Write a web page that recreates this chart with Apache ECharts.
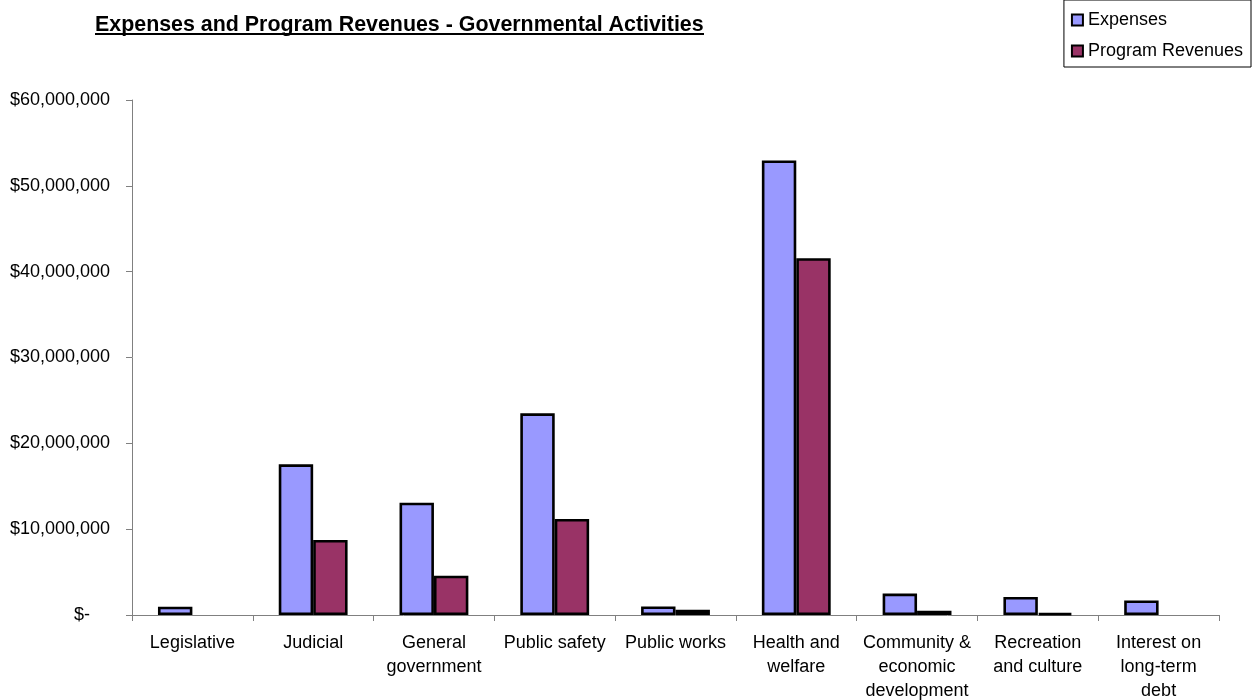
<!DOCTYPE html>
<html>
<head>
<meta charset="utf-8">
<script src="https://cdn.jsdelivr.net/npm/echarts@6/dist/echarts.min.js"></script>
<style>html,body{margin:0;padding:0;background:#fff}#c{width:1253px;height:700px}</style>
</head>
<body>
<div id="c"></div>
<script>
var titleText = 'Expenses and Program Revenues - Governmental Activities';
var categories = ['Legislative', 'Judicial', 'General\ngovernment', 'Public safety', 'Public works', 'Health and\nwelfare', 'Community &\neconomic\ndevelopment', 'Recreation\nand culture', 'Interest on\nlong-term\ndebt'];
var seriesNames = ['Expenses', 'Program Revenues'];
var expenses = [970000, 17560000, 13090000, 23500000, 1000000, 52950000, 2500000, 2100000, 1700000];
var programRevenues = [null, 8740000, 4580000, 11190000, 600000, 41570000, 500000, 200000, null];

var font = '"Liberation Sans", Arial, sans-serif';
var chart = echarts.init(document.getElementById('c'), null, {renderer: 'canvas'});
function fmt(v) {
  if (v === 0) return '$-    ';
  return '$' + v.toLocaleString('en-US');
}
chart.setOption({
  animation: false,
  backgroundColor: '#fff',
  title: {
    text: titleText,
    left: 90, top: 10,
    textStyle: {fontFamily: font, fontSize: 21.4, fontWeight: 'bold', color: '#000'}
  },
  graphic: [{
    type: 'line', shape: {x1: 95, y1: 34, x2: 704, y2: 34},
    style: {stroke: '#000', lineWidth: 2}
  }],
  legend: {
    orient: 'vertical', right: 2, top: 0,
    padding: [11, 8, 7, 7], itemGap: 13,
    itemWidth: 11, itemHeight: 11, icon: 'rect',
    borderColor: '#000', borderWidth: 1,
    textStyle: {fontFamily: font, fontSize: 18, color: '#000'},
    data: seriesNames
  },
  grid: {left: 132, right: 34, top: 100, bottom: 85, containLabel: false, outerBoundsMode: 'none'},
  xAxis: {
    type: 'category', data: categories,
    axisLine: {lineStyle: {color: '#808080', width: 1}},
    axisTick: {show: true, length: 6, lineStyle: {color: '#808080'}},
    axisLabel: {interval: 0, margin: 16, fontFamily: font, fontSize: 18, color: '#000', lineHeight: 24}
  },
  yAxis: {
    type: 'value', min: 0, max: 60000000, interval: 10000000,
    axisLine: {show: true, lineStyle: {color: '#808080', width: 1}},
    axisTick: {show: true, length: 6, lineStyle: {color: '#808080'}},
    splitLine: {show: false},
    axisLabel: {margin: 22, fontFamily: font, fontSize: 18, color: '#000', formatter: fmt}
  },
  series: [{
    name: seriesNames[0], type: 'bar', data: expenses,
    barGap: '0%', barCategoryGap: '43%',
    itemStyle: {color: '#9999FF', borderColor: '#000', borderWidth: 2.6}
  }, {
    name: seriesNames[1], type: 'bar', data: programRevenues,
    barGap: '0%', barCategoryGap: '43%',
    itemStyle: {color: '#993366', borderColor: '#000', borderWidth: 2.6}
  }]
});
</script>
</body>
</html>
